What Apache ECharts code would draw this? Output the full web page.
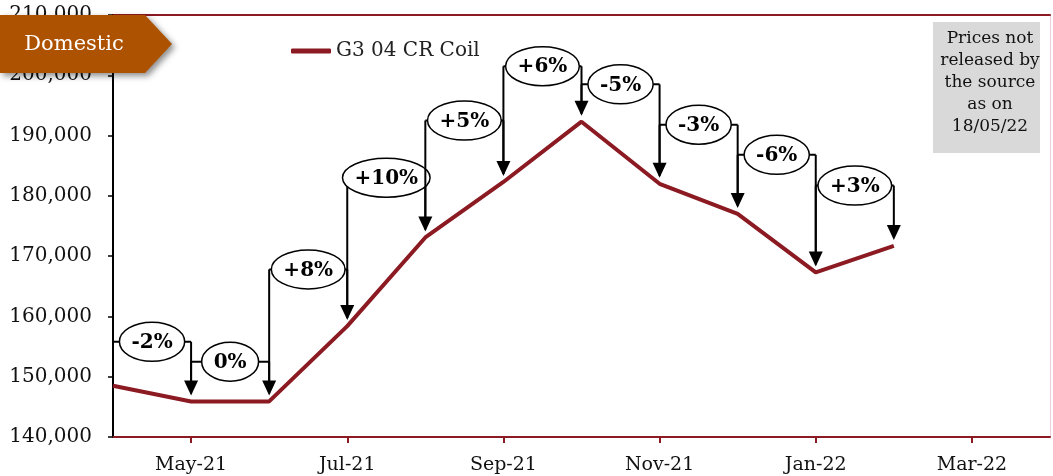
<!DOCTYPE html>
<html><head><meta charset="utf-8">
<script src="https://cdn.jsdelivr.net/npm/echarts@6/dist/echarts.min.js"></script>
<style>html,body{margin:0;padding:0;background:#fff}#c{width:1053px;height:476px}</style>
</head><body><div id="c"></div>
<script>
const months = ['Apr-21','May-21','Jun-21','Jul-21','Aug-21','Sep-21','Oct-21','Nov-21','Dec-21','Jan-22','Feb-22','Mar-22','Apr-22'];
const prices = [148500,145900,145900,158400,173100,182300,192300,182000,177000,167300,171700,null,null];
const seriesName = 'G3 04 CR Coil';
const changeLabels = ['-2%','0%','+8%','+10%','+5%','+6%','-5%','-3%','-6%','+3%'];
const bracketLevels = [155800,152500,167800,183000,192500,201500,198500,191800,186800,181700];
const noteLines = ['Prices not','released by','the source','as on','18/05/22'];
const tagText = 'Domestic';

const FONT = '"DejaVu Serif", Georgia, serif';
const RED = '#8B1A22';

const mctx = document.createElement('canvas').getContext('2d');
mctx.font = 'bold 20px "DejaVu Serif"';

const bracketData = changeLabels.map((l, i) => [i, i + 1, bracketLevels[i]]);

function renderBracket(params, api) {
  const i0 = api.value(0), i1 = api.value(1), lvl = api.value(2);
  const a = api.coord([i0, prices[i0]]);
  const b = api.coord([i1, prices[i1]]);
  const y = api.coord([i0, lvl])[1];
  const gap = 6, head = 15, hw = 7;
  const label = changeLabels[params.dataIndex];
  const tw = mctx.measureText(label).width;
  const rx = tw / 2 + 12, ry = 19.5;
  const cx = (a[0] + b[0]) / 2;
  const ls = { stroke: '#000', lineWidth: 2 };
  const ell = 'M ' + (cx - rx) + ' ' + y + ' A ' + rx + ' ' + ry + ' 0 1 0 ' + (cx + rx) + ' ' + y +
              ' A ' + rx + ' ' + ry + ' 0 1 0 ' + (cx - rx) + ' ' + y + ' Z';
  return {
    type: 'group',
    children: [
      { type: 'line', shape: { x1: a[0], y1: y, x2: a[0], y2: a[1] - gap - 2 }, style: ls },
      { type: 'line', shape: { x1: b[0], y1: y, x2: b[0], y2: b[1] - gap - head + 1 }, style: ls },
      { type: 'polygon', shape: { points: [[b[0] - hw, b[1] - gap - head], [b[0] + hw, b[1] - gap - head], [b[0], b[1] - gap]] }, style: { fill: '#000' } },
      { type: 'line', shape: { x1: a[0], y1: y, x2: b[0], y2: y }, style: ls },
      { type: 'path', shape: { pathData: ell }, style: { fill: '#fff', stroke: '#000', lineWidth: 1.5 } },
      { type: 'text', style: { text: label, x: cx, y: y + 1, align: 'center', verticalAlign: 'middle', font: 'bold 20px ' + FONT, fill: '#000' } }
    ]
  };
}

const chart = echarts.init(document.getElementById('c'), null, { renderer: 'canvas' });
const labelInterval = (i) => i % 2 === 1;
chart.setOption({
  animation: false,
  grid: { left: 113, right: 3, top: 15, bottom: 39 },
  legend: {
    data: [seriesName], left: 286, top: 36, itemWidth: 40, itemHeight: 5, icon: 'roundRect',
    textStyle: { fontFamily: FONT, fontSize: 20, color: '#222' }
  },
  xAxis: [{
    type: 'category', data: months, boundaryGap: false,
    axisLine: { lineStyle: { color: RED, width: 2 } },
    axisTick: { interval: labelInterval, length: 6, lineStyle: { color: RED, width: 2 } },
    axisLabel: { interval: labelInterval, fontFamily: FONT, fontSize: 19, color: '#111', margin: 19 }
  }, {
    type: 'category', data: months, boundaryGap: false, position: 'top',
    axisLine: { lineStyle: { color: RED, width: 2 } },
    axisTick: { show: false }, axisLabel: { show: false }
  }],
  yAxis: [{
    type: 'value', min: 140000, max: 210000, interval: 10000,
    axisLine: { show: true, lineStyle: { color: '#000', width: 2 } },
    axisTick: { show: true, length: 5, lineStyle: { color: '#000', width: 1.5 } },
    splitLine: { show: false },
    axisLabel: { formatter: v => v.toLocaleString('en-US'), fontFamily: FONT, fontSize: 20, color: '#111', margin: 21 }
  }, {
    type: 'value', min: 140000, max: 210000, interval: 10000, position: 'right',
    axisLine: { show: true, lineStyle: { color: '#F0D2D8', width: 1 } },
    axisTick: { show: false }, axisLabel: { show: false }, splitLine: { show: false }
  }],
  series: [{
    name: seriesName, type: 'line', data: prices, symbol: 'none',
    lineStyle: { color: RED, width: 4 }, itemStyle: { color: RED }, z: 3
  }, {
    type: 'custom', data: bracketData, renderItem: renderBracket,
    encode: { x: 0, y: 2 }, clip: false, z: 5, silent: true
  }],
  graphic: [
    {
      type: 'polygon', z: 100,
      shape: { points: [[0, 15], [145, 15], [172, 44], [145, 73], [0, 73]] },
      style: { fill: '#AD5200', shadowBlur: 6, shadowOffsetX: 3, shadowOffsetY: 3, shadowColor: 'rgba(0,0,0,0.45)' }
    },
    {
      type: 'text', z: 101, x: 74, y: 45,
      style: { text: tagText, align: 'center', verticalAlign: 'middle', font: '21px ' + FONT, fill: '#fff' }
    },
    {
      type: 'rect', z: 50, shape: { x: 933, y: 22, width: 107, height: 131 },
      style: { fill: '#D9D9D9' }
    },
    {
      type: 'text', z: 51, x: 990, y: 28,
      style: { text: noteLines.join('\n'), align: 'center', verticalAlign: 'top', font: '17px ' + FONT, lineHeight: 22, fill: '#111' }
    }
  ]
});
</script></body></html>
